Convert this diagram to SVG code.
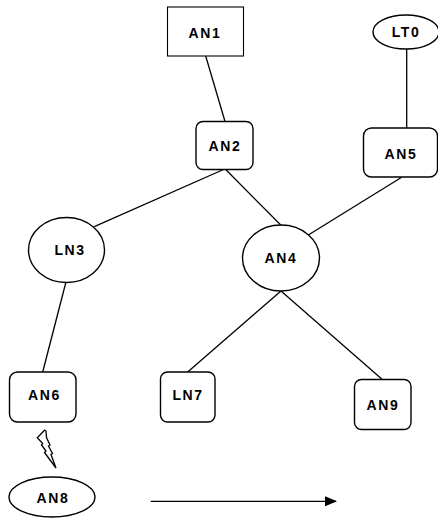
<svg xmlns="http://www.w3.org/2000/svg" width="438" height="518" viewBox="0 0 438 518">
<style>
.shape{fill:#fff;stroke:#000;stroke-width:1.4}
.sq{fill:#fff;stroke:#000;stroke-width:1.1}
.lbl{font-family:"Liberation Sans",Arial,sans-serif;font-weight:bold;font-size:14px;letter-spacing:1.6px;text-anchor:middle;fill:#000}
.edge{stroke:#000;stroke-width:1.3;fill:none}
</style>
<defs>
<marker id="ah" viewBox="0 0 12 10" refX="11" refY="5" markerWidth="12" markerHeight="10" markerUnits="userSpaceOnUse" orient="auto">
<path d="M0,0 L12,5 L0,10 Z" fill="#000"/>
</marker>
</defs>
<rect width="438" height="518" fill="#fff"/>
<g id="connectors">
<line class="edge" x1="205.7" y1="56" x2="225" y2="121.5"/>
<line class="edge" x1="223.5" y1="169.5" x2="94.3" y2="226.7"/>
<line class="edge" x1="225.7" y1="169.5" x2="281" y2="225.3"/>
<line class="edge" x1="401.7" y1="177.3" x2="308.3" y2="235"/>
<line class="edge" x1="406.7" y1="49" x2="406.7" y2="128"/>
<line class="edge" x1="65.7" y1="283" x2="42.7" y2="372"/>
<line class="edge" x1="281" y1="291" x2="187.7" y2="372"/>
<line class="edge" x1="281" y1="291" x2="382.3" y2="379.5"/>
<line class="edge" x1="150.7" y1="501.3" x2="336" y2="501.3" marker-end="url(#ah)"/>
<path class="edge" stroke-width="1.1" d="M44.7,430 L37.3,437.7 L42.7,443.5 L41.5,445 L46,451 L44.5,452.5 L56,468 L51,454.5 L52.5,453.5 L48.5,446 L50,445 L46.5,437.5 L46,431 Z"/>
</g>
<g id="AN1">
<rect class="sq" x="167.5" y="7" width="76" height="49"/>
<text class="lbl" x="205" y="38">AN1</text>
</g>
<g id="LT0">
<ellipse class="shape" cx="406" cy="32" rx="33" ry="17"/>
<text class="lbl" x="406" y="37">LT0</text>
</g>
<g id="AN2">
<rect class="shape" x="196" y="121.5" width="57" height="48" rx="7"/>
<text class="lbl" x="225" y="151">AN2</text>
</g>
<g id="AN5">
<rect class="shape" x="363.5" y="128" width="74" height="49" rx="8"/>
<text class="lbl" x="401" y="159">AN5</text>
</g>
<g id="LN3">
<ellipse class="shape" cx="66.5" cy="250" rx="38" ry="32.5"/>
<text class="lbl" x="70" y="255">LN3</text>
</g>
<g id="AN4">
<ellipse class="shape" cx="281" cy="258" rx="38.5" ry="33"/>
<text class="lbl" x="281" y="262.5">AN4</text>
</g>
<g id="AN6">
<rect class="shape" x="9.5" y="372" width="66.5" height="50" rx="8"/>
<text class="lbl" x="44.5" y="400">AN6</text>
</g>
<g id="LN7">
<rect class="shape" x="160.5" y="372" width="54.5" height="50" rx="7"/>
<text class="lbl" x="188" y="400">LN7</text>
</g>
<g id="AN9">
<rect class="shape" x="354.5" y="379.5" width="56.5" height="50" rx="7"/>
<text class="lbl" x="383" y="409.5">AN9</text>
</g>
<g id="AN8">
<ellipse class="shape" cx="52" cy="497" rx="43" ry="20"/>
<text class="lbl" x="53" y="502.5">AN8</text>
</g>
</svg>
